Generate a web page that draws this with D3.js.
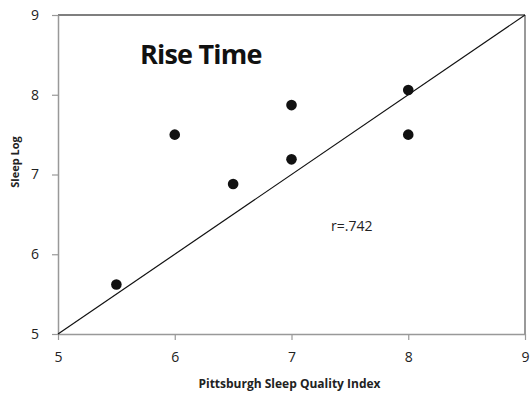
<!DOCTYPE html>
<html><head><meta charset="utf-8">
<script src="https://cdn.jsdelivr.net/npm/d3@7"></script>
<style>body{margin:0;background:#fff}</style>
</head><body>
<script>
const psqi = [5.5, 6, 6.5, 7, 7, 8, 8];
const sleepLog = [5.62, 7.5, 6.88, 7.87, 7.19, 8.06, 7.5];
const xTicks = [5, 6, 7, 8, 9];
const yTicks = [5, 6, 7, 8, 9];
const fitLine = [[5, 5], [9, 9]];
const title = "Rise Time";
const rLabel = "r=.742";

const W = 530, H = 393;
const svg = d3.select("body").append("svg").attr("width", W).attr("height", H);
const x = d3.scaleLinear().domain([5, 9]).range([58, 525]);
const y = d3.scaleLinear().domain([5, 9]).range([334, 15]);
const font = "'Open Sans', sans-serif";

// frame
svg.append("line").attr("x1", x(5)).attr("x2", x(9)).attr("y1", y(9)).attr("y2", y(9)).attr("stroke", "#000").attr("stroke-width", 1.2);
svg.append("line").attr("x1", x(9)).attr("x2", x(9)).attr("y1", y(9)).attr("y2", y(5)).attr("stroke", "#777").attr("stroke-width", 1.5);

const xa = svg.append("g").attr("transform", `translate(0,${y(5)})`)
  .call(d3.axisBottom(x).tickValues(xTicks).tickFormat(d3.format("d")).tickSize(6).tickSizeOuter(0).tickPadding(12));
const ya = svg.append("g").attr("transform", `translate(${x(5)},0)`)
  .call(d3.axisLeft(y).tickValues(yTicks).tickFormat(d3.format("d")).tickSize(6).tickSizeOuter(0).tickPadding(13));
[xa, ya].forEach(a => {
  a.select(".domain").attr("stroke", "#999").attr("stroke-width", 1.5);
  a.selectAll(".tick line").attr("stroke", "#999").attr("stroke-width", 1.2);
  a.selectAll(".tick text").attr("fill", "#222").style("font-family", font).style("font-size", "14px");
});

svg.append("line").attr("x1", x(fitLine[0][0])).attr("y1", y(fitLine[0][1]))
  .attr("x2", x(fitLine[1][0])).attr("y2", y(fitLine[1][1])).attr("stroke", "#111").attr("stroke-width", 1.2);

svg.selectAll("circle.pt").data(psqi).enter().append("circle").attr("class", "pt")
  .attr("cx", d => x(d)).attr("cy", (d, i) => y(sleepLog[i])).attr("r", 5.3).attr("fill", "#111");

svg.append("text").attr("x", 140).attr("y", 64).text(title)
  .style("font-family", font).style("font-weight", "bold").style("font-size", "27px").attr("fill", "#111").style("letter-spacing", "-0.8px");
svg.append("text").attr("x", 331).attr("y", 231).text(rLabel)
  .style("font-family", font).style("font-size", "14px").attr("fill", "#222");

svg.append("text").attr("x", 289.5).attr("y", 388).attr("text-anchor", "middle")
  .text("Pittsburgh Sleep Quality Index").style("font-family", font).style("font-weight", "bold").style("font-size", "12px").attr("fill", "#222");
svg.append("text").attr("transform", `translate(19,162) rotate(-90)`).attr("text-anchor", "middle")
  .text("Sleep Log").style("font-family", font).style("font-weight", "bold").style("font-size", "11px").attr("fill", "#222");
</script>
</body></html>
